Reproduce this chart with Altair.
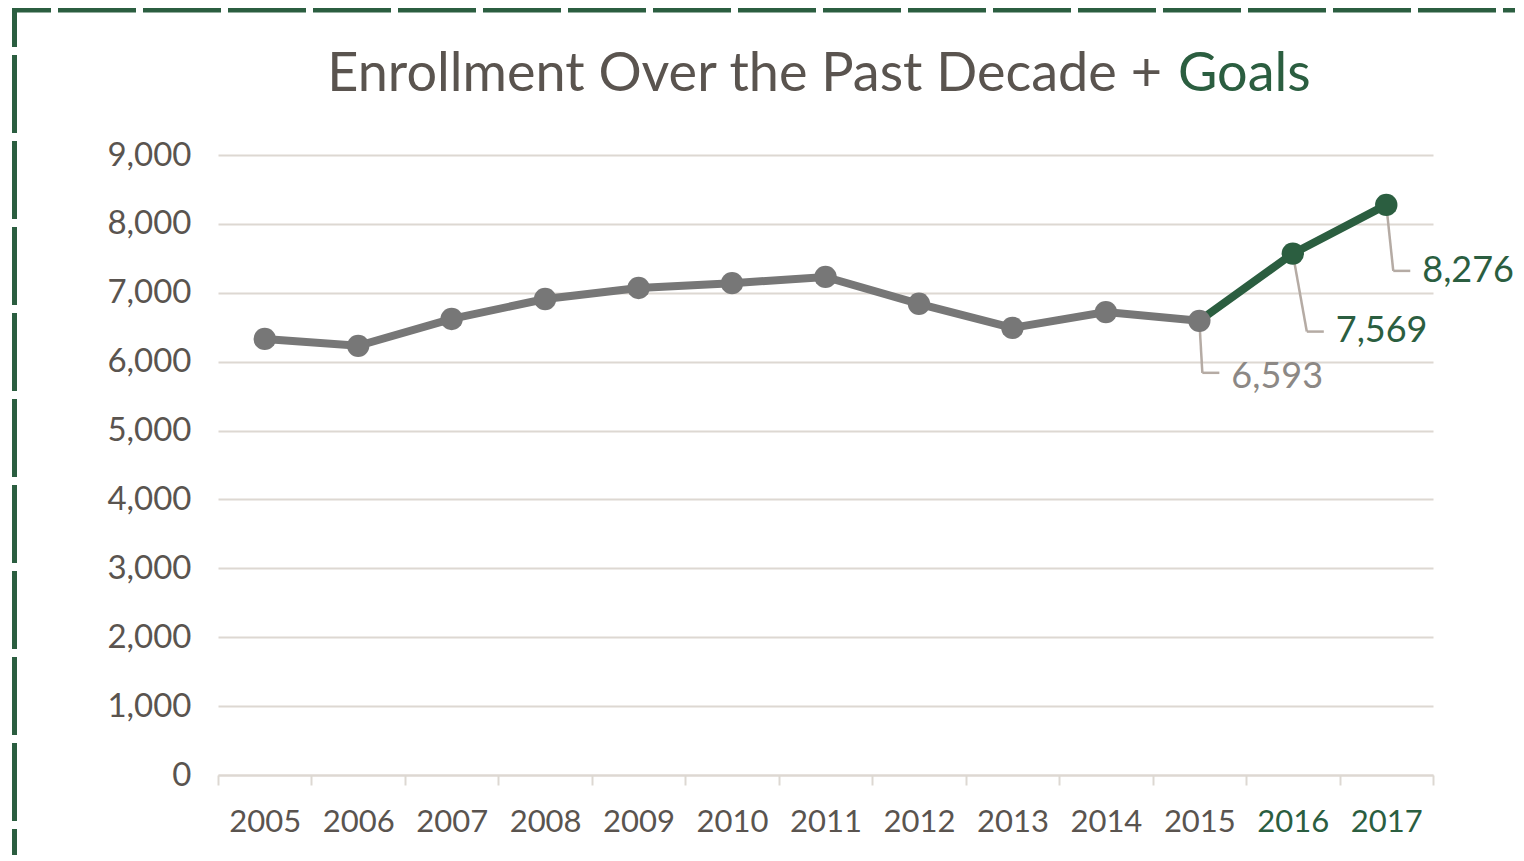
import altair as alt
import pandas as pd

years = ["2005", "2006", "2007", "2008", "2009", "2010", "2011",
         "2012", "2013", "2014", "2015", "2016", "2017"]
enrollment = [6330, 6230, 6620, 6910, 7070, 7140, 7230,
              6840, 6490, 6720, 6593, 7569, 8276]
y_ticks = [0, 1000, 2000, 3000, 4000, 5000, 6000, 7000, 8000, 9000]
title_main = "Enrollment Over the Past Decade +"
title_goal = "Goals"

GREEN = "#2b5e40"
GREY_LINE = "#777777"
TEXT = "#5a544f"
GRID = "#ddd8d2"
LEADER = "#b5aba4"
FONT = "Lato"

df = pd.DataFrame({"year": years, "value": enrollment,
                   "yr": [int(y) for y in years]})
df["label"] = df["value"].map(lambda v: f"{v:,}")

W, H = 1215, 620

x_enc = alt.X("year:N", sort=years, bandPosition=0.5,
              scale=alt.Scale(type="band", paddingInner=0, paddingOuter=0),
              axis=alt.Axis(title=None, labelAngle=0, grid=False,
                            tickBand="extent", ticks=True, tickSize=10,
                            tickColor=GRID, tickWidth=2,
                            domainColor=GRID, domainWidth=2,
                            labelFont=FONT, labelFontSize=31,
                            labelPadding=22,
                            labelColor={"expr": f"toNumber(datum.value) >= 2016 ? '{GREEN}' : '{TEXT}'"}))
y_enc = alt.Y("value:Q",
              scale=alt.Scale(domain=[0, 9000], nice=False, zero=True),
              axis=alt.Axis(title=None, values=y_ticks, format=",.0f",
                            domain=False, ticks=False, grid=True,
                            gridColor=GRID, gridWidth=2,
                            labelFont=FONT, labelFontSize=33,
                            labelColor=TEXT, labelPadding=27))

base = alt.Chart(df)

grey_line = base.transform_filter("datum.yr <= 2015").mark_line(
    color=GREY_LINE, strokeWidth=8).encode(x=x_enc, y=y_enc)
green_line = base.transform_filter("datum.yr >= 2015").mark_line(
    color=GREEN, strokeWidth=8).encode(x=x_enc, y=y_enc)

pts = base.mark_point(filled=True, opacity=1, size=500).encode(
    x=x_enc, y=y_enc,
    color=alt.condition("datum.yr >= 2016", alt.value(GREEN), alt.value(GREY_LINE)))


def annotate(year, dx, dy, ty, color):
    d = base.transform_filter(f"datum.year == '{year}'")
    vert = d.mark_rule(color=LEADER, strokeWidth=2.5, x2Offset=dx, y2Offset=dy).encode(
        x=x_enc, y=y_enc, x2="year:N", y2="value:Q")
    horiz = d.mark_rule(color=LEADER, strokeWidth=2.5, xOffset=dx, x2Offset=dx + 17,
                        yOffset=dy).encode(x=x_enc, x2="year:N", y=y_enc)
    txt = d.mark_text(align="left", baseline="middle", font=FONT, fontSize=36,
                      color=color, dx=dx + 29, dy=ty).encode(
        x=x_enc, y=y_enc, text="label:N")
    return [vert, horiz, txt]


annos = []
annos += annotate("2015", 3, 52, 56, "#8c8885")
annos += annotate("2016", 14, 78, 77, GREEN)
annos += annotate("2017", 7, 66, 66, GREEN)

one = pd.DataFrame({"a": [0]})
border_top = alt.Chart(one).mark_rule(color=GREEN, strokeWidth=5,
                                      strokeDash=[78, 7], strokeDashOffset=39).encode(
    x=alt.value(-206), x2=alt.value(1320), y=alt.value(-145))
border_left = alt.Chart(one).mark_rule(color=GREEN, strokeWidth=5,
                                       strokeDash=[78, 8], strokeDashOffset=39).encode(
    x=alt.value(-203.5), y=alt.value(-147), y2=alt.value(720))

t1 = alt.Chart(one).mark_text(align="right", baseline="alphabetic", font=FONT,
                              fontSize=54, color=TEXT).encode(
    x=alt.value(944), y=alt.value(-64), text=alt.value(title_main))
t2 = alt.Chart(one).mark_text(align="left", baseline="alphabetic", font=FONT,
                              fontSize=54, color=GREEN).encode(
    x=alt.value(960), y=alt.value(-64), text=alt.value(title_goal))

chart = alt.layer(grey_line, green_line, *annos, pts, border_top, border_left, t1, t2).properties(
    width=W, height=H,
    autosize=alt.AutoSizeParams(type="none"),
    padding={"left": 210, "top": 147, "right": 82, "bottom": 80},
    background="white",
).configure_view(stroke=None)

chart.save("out.html", embed_options={"renderer": "svg", "actions": False})
